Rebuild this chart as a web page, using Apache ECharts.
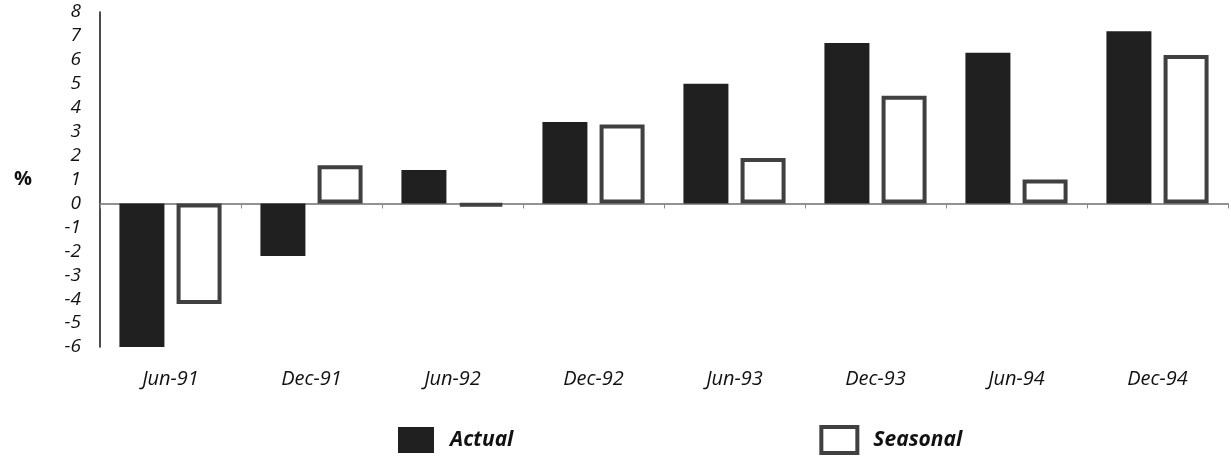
<!DOCTYPE html>
<html>
<head>
<meta charset="utf-8">
<script src="https://cdn.jsdelivr.net/npm/echarts@6/dist/echarts.min.js"></script>
<style>
  html, body { margin: 0; padding: 0; background: #fff; }
  #chart { width: 1231px; height: 460px; }
</style>
</head>
<body>
<div id="chart"></div>
<script>
// Half-yearly periods on the category axis
const periods = ['Jun-91', 'Dec-91', 'Jun-92', 'Dec-92', 'Jun-93', 'Dec-93', 'Jun-94', 'Dec-94'];
// Percentage values per period
const actualValues = [-6.0, -2.2, 1.4, 3.4, 5.0, 6.7, 6.3, 7.2];
const seasonalValues = [-4.2, 1.6, -0.1, 3.3, 1.9, 4.5, 1.0, 6.2];
// Value axis range and step
const yMin = -6;
const yMax = 8;
const yStep = 1;

const FONT = '"Open Sans", "Noto Sans", sans-serif';
const ACTUAL_COLOR = '#202020';
const SEASONAL_BORDER = '#404040';

const chart = echarts.init(document.getElementById('chart'), null, { renderer: 'canvas' });

chart.setOption({
  animation: false,
  backgroundColor: '#ffffff',
  grid: {
    left: 100,
    right: 3,
    top: 12,
    bottom: 113,
    outerBoundsMode: 'none'
  },
  legend: {
    left: 393,
    top: 420,
    itemWidth: 36,
    itemHeight: 26,
    itemGap: 306,
    selectedMode: false,
    textStyle: {
      fontFamily: FONT,
      fontSize: 21,
      fontWeight: 'bold',
      fontStyle: 'italic',
      color: '#111',
      padding: [0, 0, 0, 11]
    },
    data: [
      { name: 'Actual', icon: 'rect', itemStyle: { color: ACTUAL_COLOR, borderWidth: 0 } },
      { name: 'Seasonal', icon: 'rect', itemStyle: { color: '#ffffff', borderColor: SEASONAL_BORDER, borderWidth: 4 } }
    ]
  },
  xAxis: [
    {
      // category labels along the bottom of the plot
      type: 'category',
      data: periods,
      position: 'bottom',
      axisLine: { show: false, onZero: false },
      axisTick: { show: false },
      axisLabel: {
        margin: 22,
        fontFamily: FONT,
        fontSize: 20,
        fontWeight: 500,
        fontStyle: 'italic',
        color: '#111'
      }
    },
    {
      // baseline at zero with small ticks between periods
      type: 'category',
      data: periods,
      position: 'top',
      axisLine: { show: true, onZero: true, lineStyle: { color: '#6f6f6f', width: 1.5 } },
      axisTick: { show: true, inside: true, length: 5, lineStyle: { color: '#8a8a8a', width: 1 } },
      axisLabel: { show: false },
      splitLine: { show: false }
    }
  ],
  yAxis: {
    type: 'value',
    min: yMin,
    max: yMax,
    interval: yStep,
    name: '%',
    nameLocation: 'middle',
    nameRotate: 0,
    nameGap: 68,
    nameTextStyle: {
      fontFamily: FONT,
      fontSize: 20,
      fontWeight: 'bold',
      color: '#111',
      padding: [10, 0, 0, 0]
    },
    axisLine: { show: true, lineStyle: { color: '#111', width: 1.5 } },
    axisTick: { show: false },
    splitLine: { show: false },
    axisLabel: {
      margin: 19,
      fontFamily: FONT,
      fontSize: 19,
      fontWeight: 500,
      fontStyle: 'italic',
      color: '#111',
      padding: [12, 0, 0, 0]
    }
  },
  series: [
    {
      name: 'Actual',
      type: 'bar',
      xAxisIndex: 0,
      data: actualValues,
      barWidth: 45,
      barGap: '27%',
      itemStyle: { color: ACTUAL_COLOR }
    },
    {
      name: 'Seasonal',
      type: 'bar',
      xAxisIndex: 0,
      data: seasonalValues,
      barWidth: 45,
      barGap: '27%',
      itemStyle: { color: '#ffffff', borderColor: SEASONAL_BORDER, borderWidth: 4 }
    }
  ]
});
</script>
</body>
</html>
